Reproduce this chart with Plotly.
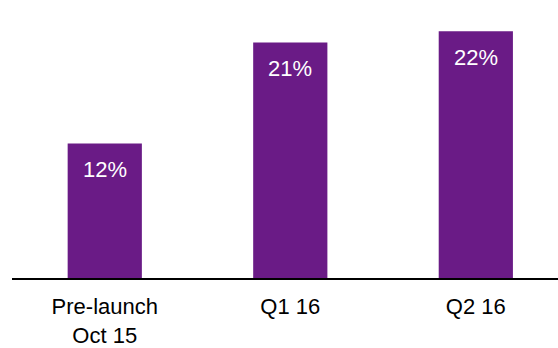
import plotly.graph_objects as go

# Share of respondents by survey wave
categories = ["Pre-launch<br>Oct 15", "Q1 16", "Q2 16"]
values = [12, 21, 22]
labels = [f"{v}%" for v in values]

bar_color = "#6A1B86"
font_family = "Liberation Sans, Arial, sans-serif"

fig = go.Figure(
    go.Bar(
        x=categories,
        y=values,
        marker=dict(color=bar_color, line=dict(width=0)),
        width=0.4,
        hoverinfo="skip",
    )
)

# Value labels sitting just below each bar's top edge
for cat, val, lab in zip(categories, values, labels):
    fig.add_annotation(
        x=cat, y=val, text=lab, showarrow=False,
        yanchor="top", yshift=-12,
        font=dict(family=font_family, size=22, color="white"),
    )

fig.update_layout(
    width=558, height=348,
    margin=dict(l=12, r=0, t=0, b=68),
    paper_bgcolor="white", plot_bgcolor="white",
    showlegend=False,
    font=dict(family=font_family, size=22, color="black"),
    xaxis=dict(
        range=[-0.5, 2.443],
        showline=True, linecolor="black", linewidth=1.5,
        ticks="outside", ticklen=8, tickcolor="rgba(0,0,0,0)",
        showgrid=False, zeroline=False,
        tickfont=dict(family=font_family, size=22, color="black"),
    ),
    yaxis=dict(
        range=[0, 24.78],
        visible=False, showgrid=False, zeroline=False,
    ),
)

fig.write_html("out.html")
